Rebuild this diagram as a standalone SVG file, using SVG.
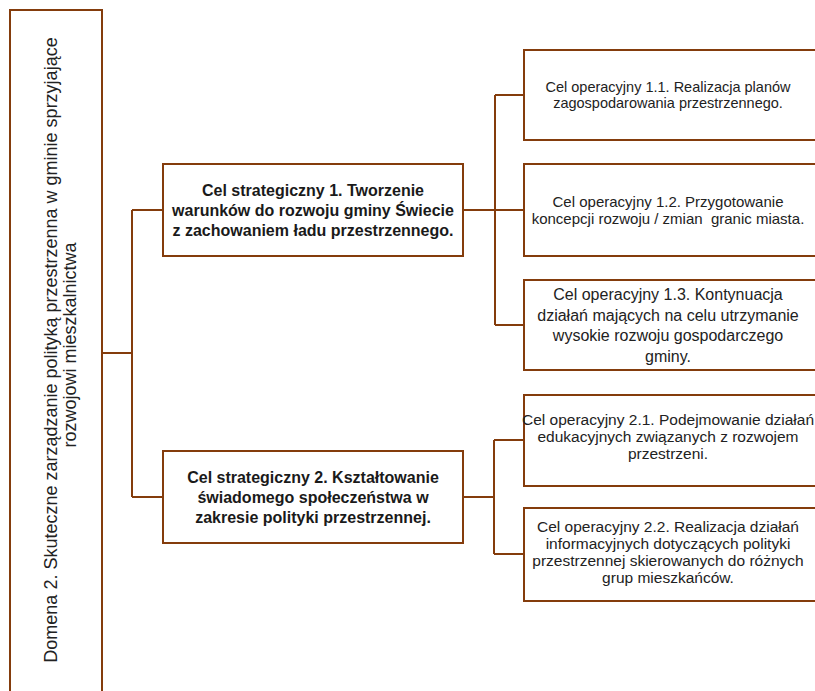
<svg xmlns="http://www.w3.org/2000/svg" width="815" height="691" viewBox="0 0 815 691">
  <style>
    .box { fill: #ffffff; stroke: #843C0C; stroke-width: 2; }
    .conn { fill: none; stroke: #843C0C; stroke-width: 2; }
    .t { font-family: "Liberation Sans", Arial, sans-serif; fill: #222222; text-anchor: middle; }
    .b { font-family: "Liberation Sans", Arial, sans-serif; fill: #1a1a1a; text-anchor: middle; font-weight: bold; font-size: 16px; }
  </style>
  <rect width="815" height="691" fill="#ffffff"/>

  <g id="connectors">
    <path class="conn" d="M102,353 H132 M132,210 V497 M132,210 H163 M132,497 H163"/>
    <path class="conn" d="M463,210 H495 M495,95 V325 M495,95 H524 M495,210 H524 M495,325 H524"/>
    <path class="conn" d="M463,497 H494 M494,440 V554 M494,440 H524 M494,554 H524"/>
  </g>

  <g id="domena">
    <rect class="box" x="10" y="10" width="92" height="700"/>
    <text class="t" font-size="18" transform="translate(57,350) rotate(-90)">Domena 2. Skuteczne zarządzanie polityką przestrzenna w gminie sprzyjające</text>
    <text class="t" font-size="18" transform="translate(76,345) rotate(-90)">rozwojowi mieszkalnictwa</text>
  </g>

  <g id="cs1">
    <rect class="box" x="163" y="164" width="300" height="92"/>
    <text class="b" x="313" y="196">Cel strategiczny 1. Tworzenie</text>
    <text class="b" x="313" y="216">warunków do rozwoju gminy Świecie</text>
    <text class="b" x="313" y="236">z zachowaniem ładu przestrzennego.</text>
  </g>

  <g id="cs2">
    <rect class="box" x="163" y="451" width="300" height="92"/>
    <text class="b" x="313" y="483">Cel strategiczny 2. Kształtowanie</text>
    <text class="b" x="313" y="503">świadomego społeczeństwa w</text>
    <text class="b" x="313" y="523">zakresie polityki przestrzennej.</text>
  </g>

  <g id="co11">
    <rect class="box" x="524" y="50" width="310" height="90"/>
    <text class="t" font-size="14.5" x="668" y="92">Cel operacyjny 1.1. Realizacja planów</text>
    <text class="t" font-size="14.5" x="668" y="108">zagospodarowania przestrzennego.</text>
  </g>

  <g id="co12">
    <rect class="box" x="524" y="164" width="310" height="92"/>
    <text class="t" font-size="15" x="668" y="207">Cel operacyjny 1.2. Przygotowanie</text>
    <text class="t" font-size="15" x="668" y="224" xml:space="preserve">koncepcji rozwoju / zmian  granic miasta.</text>
  </g>

  <g id="co13">
    <rect class="box" x="524" y="280" width="310" height="90"/>
    <text class="t" font-size="16" x="668" y="300">Cel operacyjny 1.3. Kontynuacja</text>
    <text class="t" font-size="16" x="668" y="320.5">działań mających na celu utrzymanie</text>
    <text class="t" font-size="16" x="668" y="341">wysokie rozwoju gospodarczego</text>
    <text class="t" font-size="16" x="668" y="361.5">gminy.</text>
  </g>

  <g id="co21">
    <rect class="box" x="524" y="395" width="310" height="91"/>
    <text class="t" font-size="15.5" x="668" y="425">Cel operacyjny 2.1. Podejmowanie działań</text>
    <text class="t" font-size="15.5" x="668" y="442">edukacyjnych związanych z rozwojem</text>
    <text class="t" font-size="15.5" x="668" y="459">przestrzeni.</text>
  </g>

  <g id="co22">
    <rect class="box" x="524" y="508" width="310" height="93"/>
    <text class="t" font-size="15.5" x="668" y="532">Cel operacyjny 2.2. Realizacja działań</text>
    <text class="t" font-size="15.5" x="668" y="549">informacyjnych dotyczących polityki</text>
    <text class="t" font-size="15.5" x="668" y="566">przestrzennej skierowanych do różnych</text>
    <text class="t" font-size="15.5" x="668" y="583">grup mieszkańców.</text>
  </g>
</svg>
